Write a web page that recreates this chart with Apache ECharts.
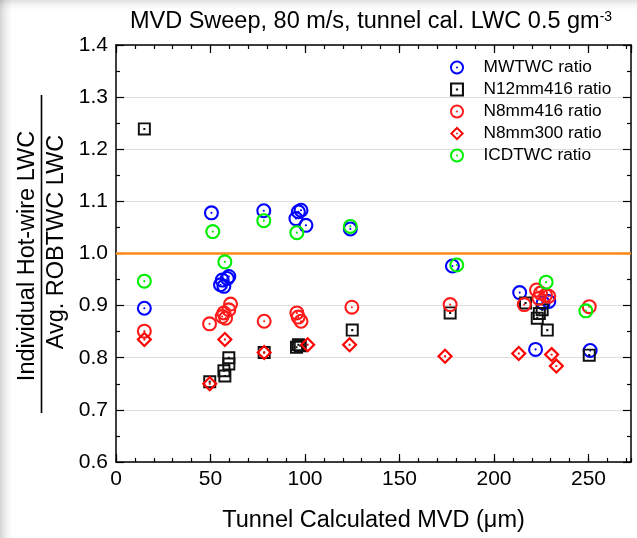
<!DOCTYPE html>
<html><head><meta charset="utf-8">
<script src="https://cdn.jsdelivr.net/npm/echarts@6/dist/echarts.min.js"></script>
<style>
html,body{margin:0;padding:0;background:#fff;}
#wrap{position:relative;width:637px;height:538px;overflow:hidden;
 background:
  linear-gradient(to right, rgba(0,0,0,0.17) 0px, rgba(0,0,0,0.06) 6px, rgba(0,0,0,0) 12px),
  linear-gradient(to bottom, rgba(0,0,0,0.12) 0px, rgba(0,0,0,0.04) 5px, rgba(0,0,0,0) 10px),
  #fff;}
#chart{position:absolute;left:0;top:0;width:637px;height:538px;}
</style></head>
<body><div id="wrap"><div id="chart"></div></div>
<script>
// ---- data (x = tunnel calculated MVD, y = ratio) ----
const seriesNames = ['MWTWC ratio', 'N12mm416 ratio', 'N8mm416 ratio', 'N8mm300 ratio', 'ICDTWC ratio'];
const mwtwc = [[15,0.895],[50.5,1.078],[55.3,0.940],[56.2,0.949],[57.1,0.937],[58.9,0.952],[59.7,0.956],
  [78.2,1.082],[95.2,1.067],[96.5,1.080],[97.9,1.083],[100.5,1.054],[124,1.047],[178,0.976],
  [213.6,0.925],[222,0.816],[226,0.905],[229,0.908],[250.9,0.814]];
const n12mm416 = [[15,1.239],[49.6,0.754],[57.1,0.775],[57.6,0.765],[59.7,0.800],[59.7,0.788],[78.4,0.810],
  [95.5,0.820],[96.5,0.825],[97.5,0.823],[125,0.853],[176.8,0.886],[216.7,0.905],[222.9,0.876],
  [224,0.885],[225.5,0.892],[228.2,0.853],[250.4,0.805]];
const n8mm416 = [[15,0.851],[49.5,0.865],[56.2,0.879],[57.1,0.886],[58,0.876],[59.7,0.892],[60.6,0.903],
  [78.4,0.870],[95.7,0.886],[96.4,0.878],[97.9,0.870],[124.8,0.897],[176.8,0.902],[216,0.902],
  [222.5,0.930],[223.8,0.914],[224.6,0.924],[227.3,0.920],[229,0.918],[250.4,0.898]];
const n8mm300 = [[15,0.835],[49.6,0.750],[57.6,0.835],[78.4,0.810],[101.4,0.825],[123.6,0.825],
  [174.1,0.803],[213.1,0.808],[230.5,0.806],[233,0.784]];
const icdtwc = [[15,0.947],[51.2,1.042],[57.6,0.984],[78.2,1.063],[95.7,1.040],[124,1.052],
  [180.3,0.978],[227.6,0.945],[248.6,0.890]];
const referenceRatio = 1.0;
// axis ranges / ticks
const xMin = 0, xMax = 272.5, xMajor = 50, xMinor = 10;
const yMin = 0.6, yMax = 1.4, yMajor = 0.1;

const FONT = '"Liberation Sans", Arial, Helvetica, sans-serif';
const P_CIRCLE = 'path://M0,50 A50,50 0 1,0 100,50 A50,50 0 1,0 0,50 Z M14,50 A36,36 0 1,1 86,50 A36,36 0 1,1 14,50 Z M43,50 A7,7 0 1,0 57,50 A7,7 0 1,0 43,50 Z';
const P_SQUARE = 'path://M0,0 L100,0 L100,100 L0,100 Z M15,15 L15,85 L85,85 L85,15 Z M42,42 L58,42 L58,58 L42,58 Z';
const P_DIAMOND = 'path://M50,0 L100,50 L50,100 L0,50 Z M50,19 L19,50 L50,81 L81,50 Z M44,44 L56,44 L56,56 L44,56 Z';

function xAx(pos, interval, len, labels, line) {
  return {
    type: 'value', position: pos, min: xMin, max: xMax, interval: interval,
    axisLine: { show: line, onZero: false, lineStyle: { color: '#000', width: 1.5 } },
    axisTick: { show: true, inside: true, length: len, lineStyle: { color: '#000', width: 1.2 } },
    splitLine: { show: false },
    axisLabel: { show: labels, color: '#000', fontSize: 21, fontFamily: FONT, margin: 7,
      showMaxLabel: false, formatter: v => String(v) },
    name: labels ? 'Tunnel Calculated MVD (\u03bcm)' : '', nameLocation: 'middle', nameGap: 47,
    nameTextStyle: { color: '#000', fontSize: 23.5, fontFamily: FONT }
  };
}
function yAx(pos, labels) {
  return {
    type: 'value', position: pos, min: yMin, max: yMax, interval: yMajor,
    axisLine: { show: true, onZero: false, lineStyle: { color: '#000', width: 1.5 } },
    axisTick: { show: true, inside: true, length: 8, lineStyle: { color: '#000', width: 1.2 } },
    minorTick: { show: true, splitNumber: 2, length: 4, lineStyle: { color: '#000', width: 1.2 } },
    splitLine: { show: labels, lineStyle: { color: '#dcdcdc', width: 1 } },
    axisLabel: { show: labels, color: '#000', fontSize: 21, fontFamily: FONT, margin: 8,
      formatter: v => v.toFixed(1) }
  };
}

function scatter(name, data, symbol, size, color) {
  return { type: 'scatter', name: name, data: data, symbol: symbol, symbolSize: size,
    symbolKeepAspect: true, itemStyle: { color: color, opacity: 1 }, xAxisIndex: 0, yAxisIndex: 0, z: 3 };
}

const chart = echarts.init(document.getElementById('chart'), null, { renderer: 'canvas' });
chart.setOption({
  animation: false,
  backgroundColor: 'transparent',
  grid: { left: 116, right: 6, top: 45, bottom: 73 },
  xAxis: [ xAx('bottom', xMajor, 8, true, true), xAx('bottom', xMinor, 4, false, false),
           xAx('top', xMajor, 8, false, true), xAx('top', xMinor, 4, false, false) ],
  yAxis: [ yAx('left', true), yAx('right', false) ],
  legend: {
    orient: 'vertical', left: 445, top: 54, itemWidth: 43, itemHeight: 14, itemGap: 5.0,
    selectedMode: false, data: seriesNames,
    textStyle: { color: '#000', fontSize: 17.3, fontFamily: FONT }
  },
  graphic: [
    { type: 'text', x: 371, y: 22, style: {
        text: '{t|MVD Sweep, 80 m/s, tunnel cal. LWC 0.5 gm}{s|-3}',
        align: 'center', verticalAlign: 'middle',
        rich: { t: { fontSize: 23.5, fontFamily: FONT, fill: '#000' },
                s: { fontSize: 14, fontFamily: FONT, fill: '#000', verticalAlign: 'top' } } } },
    { type: 'text', x: 28, y: 256, rotation: Math.PI / 2, style: {
        text: 'Individual Hot-wire LWC', align: 'center', verticalAlign: 'middle',
        fontSize: 23.5, fontFamily: FONT, fill: '#000' } },
    { type: 'line', shape: { x1: 41.5, y1: 95, x2: 41.5, y2: 413 }, style: { stroke: '#000', lineWidth: 1.6 } },
    { type: 'text', x: 57, y: 242, rotation: Math.PI / 2, style: {
        text: 'Avg. ROBTWC LWC', align: 'center', verticalAlign: 'middle',
        fontSize: 23.5, fontFamily: FONT, fill: '#000' } }
  ],
  series: [
    { type: 'line', name: 'ref', data: [[xMin, referenceRatio], [xMax, referenceRatio]], showSymbol: false,
      symbol: 'none', silent: true, lineStyle: { color: '#FF8A14', width: 2.5 }, z: 2 },
    scatter(seriesNames[0], mwtwc, P_CIRCLE, 15, '#0000FF'),
    scatter(seriesNames[1], n12mm416, P_SQUARE, 13, '#111111'),
    scatter(seriesNames[2], n8mm416, P_CIRCLE, 15, '#FF1A1A'),
    scatter(seriesNames[3], n8mm300, P_DIAMOND, 16, '#FF0000'),
    scatter(seriesNames[4], icdtwc, P_CIRCLE, 15, '#00EE00')
  ]
});
</script>
</body></html>
